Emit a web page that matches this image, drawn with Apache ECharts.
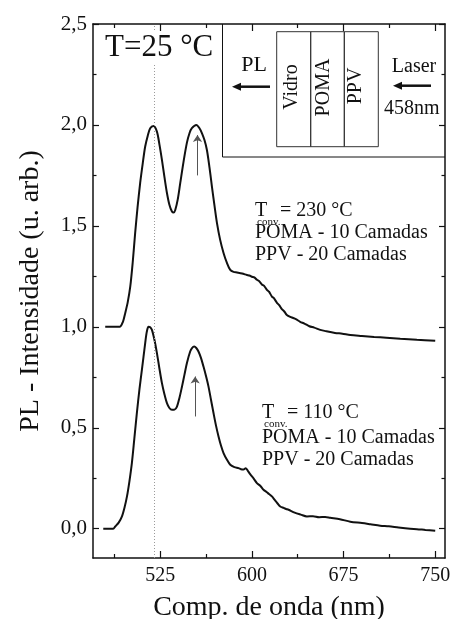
<!DOCTYPE html>
<html>
<head>
<meta charset="utf-8">
<script src="https://cdn.jsdelivr.net/npm/echarts@6/dist/echarts.min.js"></script>
<style>
  html, body { margin: 0; padding: 0; background: #fff; }
  #chart { width: 455px; height: 619px; }
</style>
</head>
<body>
<div id="chart"></div>
<script>
// data
const wlTop = [480, 486, 492, 494.5, 496.4, 498.5, 500.5, 502.5, 504.5, 506.5, 508.6, 510.7, 512.7, 514.8, 516.8, 519.5,
  522.3, 524.3, 526.4, 528.5, 530.5, 532.5, 534.6, 536, 537.3, 539.3, 541.4, 544, 546.8, 549, 550.9, 554.5,
  557, 559.1, 561.2, 563.2, 565.3, 567.3, 569.4, 571.4, 574, 576.8, 579.5, 582.3, 585, 587.8, 592, 595.9,
  598, 600, 602, 604.1, 606, 608.2, 610, 612.3, 614, 616.4, 618, 620.5, 622.5, 624.5, 626.5, 628.6,
  632, 636, 639.5, 643, 647, 651, 655.9, 661, 668, 674, 680.5, 690, 700, 710, 721.4, 735, 750];
const plTop = [1.000, 1.000, 1.001, 1.025, 1.069, 1.125, 1.200, 1.320, 1.465, 1.595, 1.713, 1.810, 1.893, 1.947, 1.984, 1.995,
  1.967, 1.905, 1.827, 1.740, 1.663, 1.605, 1.571, 1.566, 1.579, 1.630, 1.713, 1.815, 1.911, 1.960, 1.984, 2.000,
  1.985, 1.960, 1.925, 1.876, 1.790, 1.695, 1.600, 1.515, 1.432, 1.366, 1.318, 1.282, 1.272, 1.269, 1.264, 1.257,
  1.254, 1.248, 1.245, 1.233, 1.226, 1.210, 1.203, 1.183, 1.174, 1.150, 1.142, 1.119, 1.106, 1.088, 1.076, 1.059,
  1.048, 1.038, 1.025, 1.016, 1.003, 0.996, 0.985, 0.978, 0.970, 0.966, 0.960, 0.955, 0.950, 0.946, 0.941, 0.936, 0.931];

const wlBottom = [478.4, 486.5, 488.2, 491, 493.7, 495.8, 497.8, 499.8, 501.8, 503.8, 505.9, 508, 510, 512.7, 514, 515.4,
  516.8, 518.2, 520.3, 522.3, 524.3, 526.4, 528.5, 530.5, 532.5, 534.6, 536.7, 538.7, 540.8, 542.8, 544.8, 546.8,
  549.5, 551, 552.8, 554.5, 556.3, 558.4, 560.4, 562.5, 564.5, 566.5, 568.6, 570.6, 572.7, 574.7, 576.8, 579.5,
  582.3, 585.7, 589.1, 591, 593.1, 595, 597, 598.6, 601.5, 604.1, 607, 609.5, 612, 614, 616.4, 619,
  621, 623.2, 626, 628, 630, 635, 640, 645, 650, 655, 660, 664.1, 672, 680.5, 690, 697, 705, 712, 720,
  729.5, 735, 742, 750];
const plBottom = [0.000, 0.000, 0.011, 0.030, 0.061, 0.105, 0.160, 0.235, 0.325, 0.445, 0.574, 0.690, 0.787, 0.919, 0.975, 1.000,
  0.998, 0.985, 0.935, 0.870, 0.795, 0.721, 0.665, 0.622, 0.598, 0.589, 0.590, 0.605, 0.650, 0.704, 0.762, 0.820,
  0.878, 0.895, 0.902, 0.895, 0.878, 0.845, 0.803, 0.755, 0.704, 0.640, 0.573, 0.512, 0.457, 0.412, 0.375, 0.343,
  0.317, 0.305, 0.300, 0.295, 0.293, 0.300, 0.284, 0.270, 0.248, 0.226, 0.212, 0.193, 0.182, 0.172, 0.160, 0.140,
  0.125, 0.110, 0.103, 0.098, 0.094, 0.080, 0.070, 0.061, 0.062, 0.057, 0.058, 0.054, 0.047, 0.035, 0.028, 0.022, 0.015, 0.012, 0.006,
  0.000, -0.002, -0.006, -0.010];

const xMajor = [525, 600, 675, 750];
const xMinor = [487.5, 562.5, 637.5, 712.5];
const yMajor = [0, 0.5, 1.0, 1.5, 2.0, 2.5];
const yMinor = [0.25, 0.75, 1.25, 1.75, 2.25];

const FONT = '"Liberation Serif", "Times New Roman", serif';
const INK = '#111';

function zip(xs, ys) { return xs.map((x, i) => [x, ys[i]]); }

// one axis per tick set (major/minor, both sides)
function xAx(pos, ticks, len, withLine, withLabel) {
  return {
    type: 'value', position: pos, min: 470, max: 758,
    axisLine: { show: withLine, onZero: false, lineStyle: { color: INK, width: 1.5 } },
    axisTick: { show: true, inside: true, length: len, customValues: ticks, lineStyle: { color: INK, width: 1.2 } },
    axisLabel: withLabel ? { show: true, customValues: ticks, margin: 8, color: INK, fontFamily: FONT, fontSize: 20 } : { show: false },
    splitLine: { show: false }
  };
}
function yAx(pos, ticks, len, withLine, withLabel) {
  return {
    type: 'value', position: pos, min: -0.145, max: 2.5,
    axisLine: { show: withLine, onZero: false, lineStyle: { color: INK, width: 1.5 } },
    axisTick: { show: true, inside: true, length: len, customValues: ticks, lineStyle: { color: INK, width: 1.2 } },
    axisLabel: withLabel ? {
      show: true, customValues: ticks, margin: 6, color: INK, fontFamily: FONT, fontSize: 21,
      formatter: v => v.toFixed(1).replace('.', ',')
    } : { show: false },
    splitLine: { show: false }
  };
}

const xAxes = [
  xAx('bottom', xMajor, 7, true, true),
  xAx('bottom', xMinor, 4, false, false),
  xAx('top', xMajor, 7, true, false),
  xAx('top', xMinor, 4, false, false)
];
Object.assign(xAxes[0], {
  name: 'Comp. de onda (nm)', nameLocation: 'middle', nameGap: 36,
  nameTextStyle: { color: INK, fontFamily: FONT, fontSize: 28 }
});
const yAxes = [
  yAx('left', yMajor, 6, true, true),
  yAx('left', yMinor, 3.5, false, false),
  yAx('right', yMajor, 6, true, false),
  yAx('right', yMinor, 3.5, false, false)
];
Object.assign(yAxes[0], {
  name: 'PL - Intensidade (u. arb.)', nameLocation: 'middle', nameGap: 48, nameRotate: 90,
  nameTextStyle: { color: INK, fontFamily: FONT, fontSize: 28 }
});

const arrowStyle = { color: '#555', width: 1, type: 'solid' };

function txt(x, y, text, size, align) {
  return {
    type: 'text', x: x, y: y, silent: true, z: 10,
    style: { text: text, fill: INK, fontFamily: FONT, fontSize: size, align: align || 'left', verticalAlign: 'middle' }
  };
}
function vtxt(x, y, text) {
  return {
    type: 'text', x: x, y: y, rotation: Math.PI / 2, silent: true,
    style: { text: text, fill: INK, fontFamily: FONT, fontSize: 20, align: 'center', verticalAlign: 'middle' }
  };
}

const chart = echarts.init(document.getElementById('chart'), null, { renderer: 'canvas' });

const title25 = txt(103, 48, 'T=25 °C', 31);
title25.style.backgroundColor = '#fff';
title25.style.padding = [0, 2, 2, 2];

chart.setOption({
  backgroundColor: '#fff',
  animation: false,
  grid: { left: 93, right: 10, top: 24, bottom: 61, containLabel: false, outerBoundsMode: 'none' },
  xAxis: xAxes,
  yAxis: yAxes,
  series: [
    {
      type: 'line', name: 'T230', data: zip(wlTop, plTop), xAxisIndex: 0, yAxisIndex: 0, z: 3,
      showSymbol: false, smooth: 0.3, lineStyle: { color: INK, width: 2 },
      markLine: {
        silent: true, symbol: ['none', 'arrow'], symbolSize: 7, label: { show: false },
        lineStyle: arrowStyle,
        data: [[{ coord: [555.5, 1.75] }, { coord: [555.5, 1.95] }]]
      }
    },
    {
      type: 'line', name: 'T110', data: zip(wlBottom, plBottom), xAxisIndex: 0, yAxisIndex: 0, z: 3,
      showSymbol: false, smooth: 0.3, lineStyle: { color: INK, width: 2 },
      markLine: {
        silent: true, symbol: ['none', 'arrow'], symbolSize: 7, label: { show: false },
        lineStyle: arrowStyle,
        data: [[{ coord: [553.6, 0.556] }, { coord: [553.6, 0.754] }]]
      }
    },
    {
      type: 'line', data: [], xAxisIndex: 0, yAxisIndex: 0, z: 1,
      markLine: {
        silent: true, symbol: 'none', label: { show: false },
        lineStyle: { color: '#9a9a9a', width: 1, type: [1, 2] },
        data: [{ xAxis: 520 }]
      }
    }
  ],
  graphic: [
    title25,
    // inset
    { type: 'polyline', silent: true, shape: { points: [[222.5, 24], [222.5, 157], [445, 157]] }, style: { stroke: INK, lineWidth: 1, fill: null } },
    { type: 'rect', silent: true, shape: { x: 276.7, y: 31.7, width: 34, height: 115 }, style: { stroke: '#333', lineWidth: 1, fill: null } },
    { type: 'rect', silent: true, shape: { x: 310.7, y: 31.7, width: 33.6, height: 115 }, style: { stroke: '#333', lineWidth: 1, fill: null } },
    { type: 'rect', silent: true, shape: { x: 344.3, y: 31.7, width: 34, height: 115 }, style: { stroke: '#333', lineWidth: 1, fill: null } },
    vtxt(291.7, 87, 'Vidro'),
    vtxt(324, 87.5, 'POMA'),
    vtxt(355.5, 86, 'PPV'),
    txt(254, 65, 'PL', 22, 'center'),
    { type: 'line', silent: true, shape: { x1: 239, y1: 86.7, x2: 270, y2: 86.7 }, style: { stroke: INK, lineWidth: 2.5 } },
    { type: 'polygon', silent: true, shape: { points: [[232, 86.7], [241, 82.7], [241, 90.7]] }, style: { fill: INK } },
    txt(414, 67, 'Laser', 20, 'center'),
    { type: 'line', silent: true, shape: { x1: 400, y1: 85.7, x2: 431, y2: 85.7 }, style: { stroke: INK, lineWidth: 2.5 } },
    { type: 'polygon', silent: true, shape: { points: [[393, 85.7], [402, 81.7], [402, 89.7]] }, style: { fill: INK } },
    txt(411.7, 109, '458nm', 20, 'center'),
    // T conv = 230
    txt(255, 211, 'T', 20),
    txt(257, 222, 'conv.', 11),
    txt(280, 211, '= 230 °C', 20),
    txt(255, 232.5, 'POMA - 10 Camadas', 20),
    txt(255, 254.5, 'PPV - 20 Camadas', 20),
    // T conv = 110
    txt(262, 413, 'T', 20),
    txt(264, 424, 'conv.', 11),
    txt(287, 413, '= 110 °C', 20),
    txt(262, 437.5, 'POMA - 10 Camadas', 20),
    txt(262, 459.5, 'PPV - 20 Camadas', 20)
  ]
});

window.addEventListener('resize', () => chart.resize());
</script>
</body>
</html>
